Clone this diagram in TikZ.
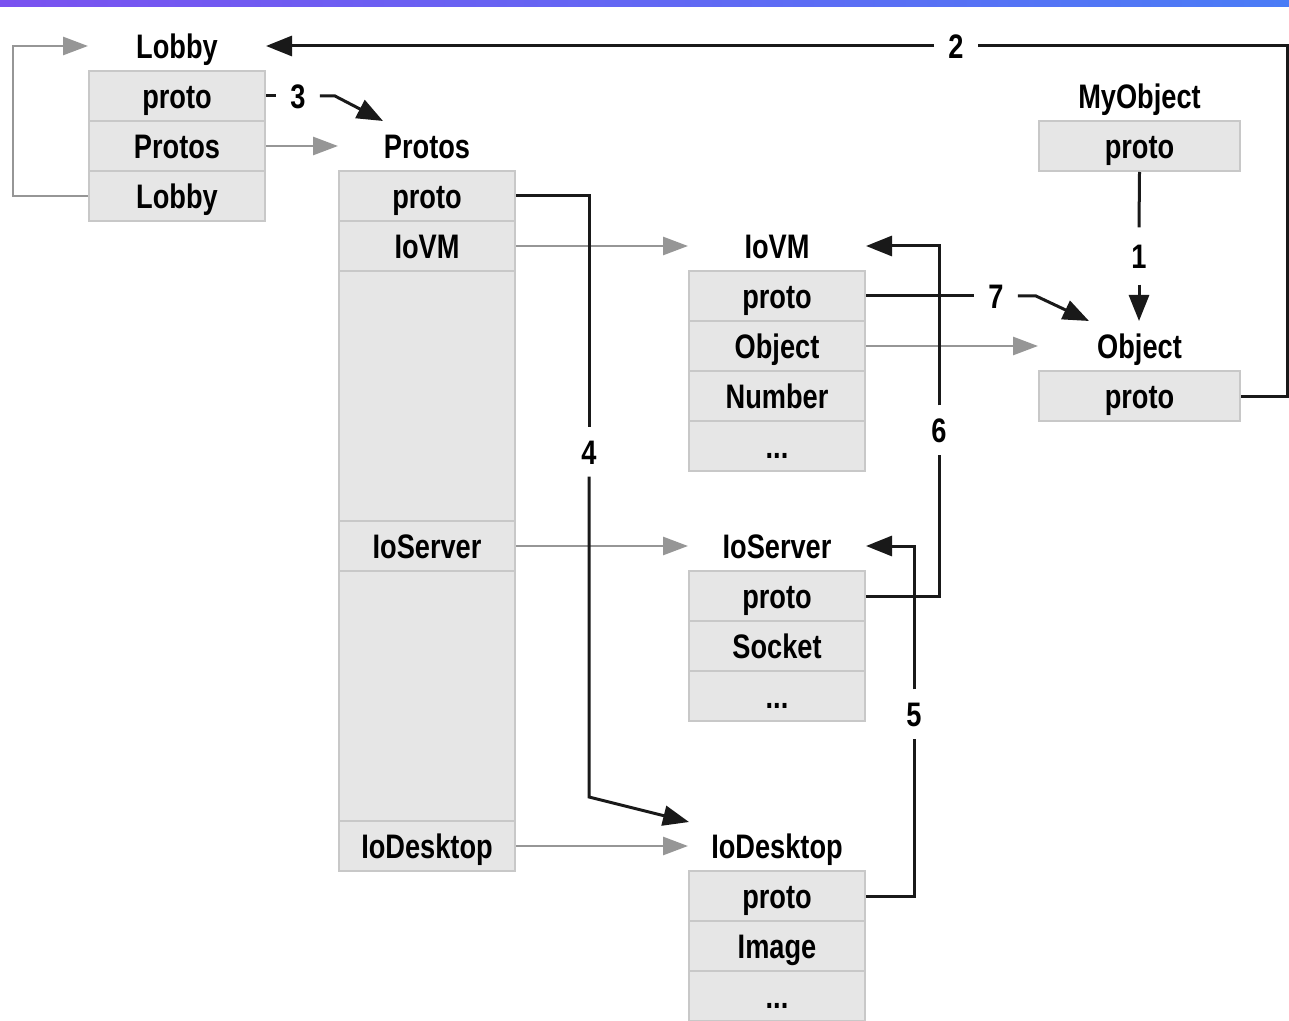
\documentclass[tikz,border=0pt]{standalone}
\usepackage{fontspec}
\setmainfont[FakeStretch=0.8]{Liberation Sans}
\usetikzlibrary{arrows.meta}
\definecolor{barL}{RGB}{122,82,240}
\definecolor{barR}{RGB}{74,124,246}
\definecolor{cellfill}{RGB}{230,230,230}
\definecolor{cellborder}{RGB}{200,200,200}
\definecolor{arrgray}{RGB}{150,150,150}
\definecolor{lineblack}{RGB}{25,25,25}
\newcommand{\fnt}{\bfseries\fontsize{17}{20}\selectfont}
\begin{document}
\begin{tikzpicture}[x=0.5pt,y=-0.5pt,
 cell/.style={draw=cellborder,fill=cellfill,line width=1pt,minimum width=88pt,minimum height=25pt,inner sep=0pt,font=\fnt,text height=12.2pt,text depth=0pt},
 ttl/.style={font=\fnt,inner sep=0pt,text height=12.2pt,text depth=0pt},
 lbl/.style={font=\fnt,inner xsep=7pt,inner ysep=6pt,text height=12.2pt,text depth=0pt},
 garr/.style={draw=arrgray,line width=1.4pt,-{Triangle[length=12.5pt,width=9pt]}},
 bline/.style={draw=lineblack,line width=1.5pt},
 barr/.style={bline,-{Triangle[length=13pt,width=10pt]}}]
\useasboundingbox (0,0) rectangle (1289,1021);
\shade[left color=barL,right color=barR] (0,0) rectangle (1289,7);

% Lobby
\node[ttl] (lobbyT) at (177,46) {Lobby};
\node[cell] (lobbyP) at (177,96) {proto};
\node[cell] (lobbyPr) at (177,146) {Protos};
\node[cell] (lobbyL) at (177,196) {Lobby};

% Protos
\node[ttl] (protosT) at (427,146) {Protos};
\node[cell] (protosP) at (427,196) {proto};
\node[cell] (protosV) at (427,246) {IoVM};
\node[cell,minimum height=125pt] (protosB1) at (427,396) {};
\node[cell] (protosS) at (427,546) {IoServer};
\node[cell,minimum height=125pt] (protosB2) at (427,696) {};
\node[cell] (protosD) at (427,846) {IoDesktop};

% IoVM
\node[ttl] (iovmT) at (777,246) {IoVM};
\node[cell] (iovmP) at (777,296) {proto};
\node[cell] (iovmO) at (777,346) {Object};
\node[cell] (iovmN) at (777,396) {Number};
\node[cell] (iovmE) at (777,446) {...};

% IoServer
\node[ttl] (iosT) at (777,546) {IoServer};
\node[cell] (iosP) at (777,596) {proto};
\node[cell] (iosS) at (777,646) {Socket};
\node[cell] (iosE) at (777,696) {...};

% IoDesktop
\node[ttl] (iodT) at (777,846) {IoDesktop};
\node[cell] (iodP) at (777,896) {proto};
\node[cell] (iodI) at (777,946) {Image};
\node[cell] (iodE) at (777,996) {...};

% MyObject / Object
\node[ttl] (myT) at (1139.5,96) {MyObject};
\node[cell,minimum width=100.5pt] (myP) at (1139.5,146) {proto};
\node[ttl] (objT) at (1139.5,346) {Object};
\node[cell,minimum width=100.5pt] (objP) at (1139.5,396) {proto};

% labels
\node[lbl,inner ysep=8pt] (l1) at (1139,256) {1};
\node[lbl] (l2) at (956,46) {2};
\node[lbl] (l3) at (298,96) {3};
\node[lbl] (l4) at (589,452) {4};
\node[lbl] (l5) at (914,714) {5};
\node[lbl] (l6) at (939,430) {6};
\node[lbl] (l7) at (996,296) {7};

\coordinate (c2) at (1287,46);
\coordinate (a1) at (1139,321);
\coordinate (a3) at (383,121);
\coordinate (c4) at (589,797);
\coordinate (a4) at (689,822);
\coordinate (a7) at (1089,321);

% gray arrows
\draw[garr] (lobbyL.west) -- ++(-75,0) |- (lobbyT -| lobbyP.west);
\draw[garr] (lobbyPr.east) -- (protosT -| protosP.west);
\draw[garr] (protosV.east) -- (iovmT -| iovmP.west);
\draw[garr] (protosS.east) -- (iosT -| iosP.west);
\draw[garr] (protosD.east) -- (iodT -| iodP.west);
\draw[garr] (iovmO.east) -- (objT -| objP.west);

% black arrows
\draw[bline] (myP.south) -- (l1.north);
\draw[barr] (l1.south) -- (a1);

\draw[bline] (objP.east) -| (c2) -- (l2.east);
\draw[barr] (l2.west) -- (lobbyT -| lobbyP.east);

\draw[bline] (lobbyP.east) -- (l3.west);
\draw[barr] (l3.east) -- ++(15,0) -- (a3);

\draw[bline] (protosP.east) -| (l4.north);
\draw[barr] (l4.south) -- (c4) -- (a4);

\draw[bline] (iodP.east) -| (l5.south);
\draw[barr] (l5.north) |- (iosT -| iosP.east);

\draw[bline] (iosP.east) -| (l6.south);
\draw[barr] (l6.north) |- (iovmT -| iovmP.east);

\draw[bline] (iovmP.east) -- (l7.west);
\draw[barr] (l7.east) -- ++(18,0) -- (a7);
\end{tikzpicture}
\end{document}
